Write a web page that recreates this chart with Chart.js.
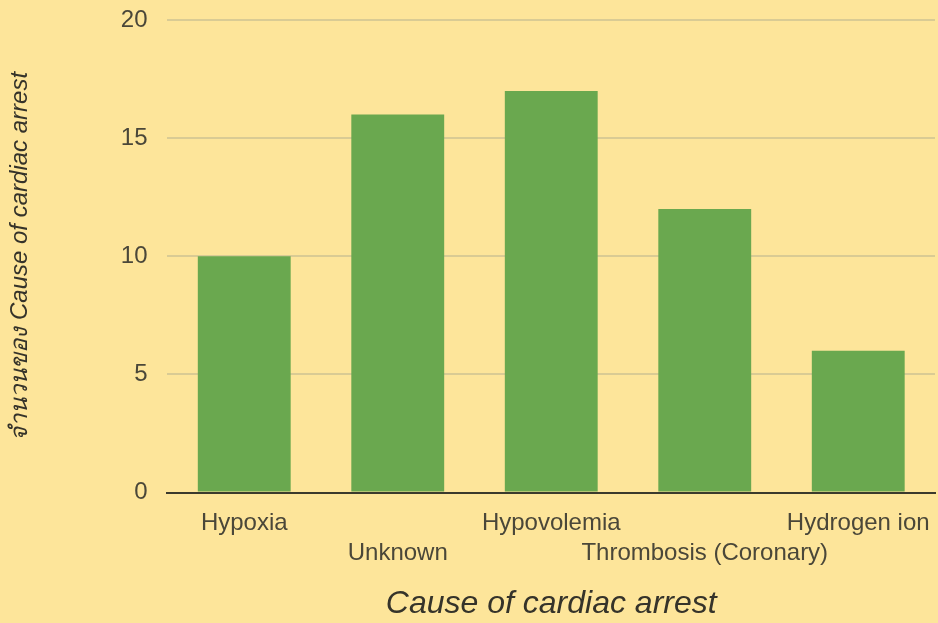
<!DOCTYPE html>
<html lang="th">
<head>
  <meta charset="UTF-8">
  <title>Cause of cardiac arrest</title>
  <script src="https://cdn.jsdelivr.net/npm/chart.js"></script>
  <style>
    html, body {
      margin: 0;
      padding: 0;
      background-color: #fde59a;
    }
    .chart-box {
      width: 938px;
      height: 623px;
    }
  </style>
</head>
<body>
  <div class="chart-box">
    <canvas id="causeChart" width="938" height="623"></canvas>
  </div>

  <script>
    const causes = ["Hypoxia", "Unknown", "Hypovolemia", "Thrombosis (Coronary)", "Hydrogen ion"];
    const counts = [10, 16, 17, 12, 6];
    const yTicks = [0, 5, 10, 15, 20];

    const fontFamily = 'Arial, "Liberation Sans", sans-serif';

    // tick labels are allowed to hang over the plot edges, like the original
    function noEdgePadding(scale) {
      scale.paddingLeft = 0;
      scale.paddingRight = 0;
      scale.paddingTop = 0;
      scale.paddingBottom = 0;
    }

    const ctx = document.getElementById('causeChart').getContext('2d');
    const causeChart = new Chart(ctx, {
      type: 'bar',
      data: {
        labels: causes,
        datasets: [
          {
            label: "จำนวนของ Cause of cardiac arrest",
            data: counts,
            backgroundColor: '#6aa84f',
            borderWidth: 0,
            barPercentage: 0.605,
            categoryPercentage: 1.0
          }
        ]
      },
      options: {
        responsive: false,
        animation: false,
        layout: {
          padding: { top: 20, right: 3, bottom: 0, left: 6 }
        },
        plugins: {
          legend: { display: false },
          tooltip: { enabled: false }
        },
        scales: {
          x: {
            afterFit: noEdgePadding,
            grid: { display: false, drawTicks: false },
            border: { display: true, color: '#3b3a2c', width: 2 },
            ticks: {
              autoSkip: false,
              maxRotation: 0,
              minRotation: 0,
              padding: 16,
              color: '#4a4739',
              font: { family: fontFamily, size: 24, lineHeight: 1.25 },
              callback: function(value, index) {
                const label = causes[index];
                return index % 2 === 1 ? ['', label] : label;
              }
            },
            title: {
              display: true,
              text: "Cause of cardiac arrest",
              color: '#35332a',
              font: { family: fontFamily, size: 32, style: 'italic' },
              padding: { top: 0, bottom: 0 }
            }
          },
          y: {
            min: 0,
            max: 20,
            afterFit: noEdgePadding,
            afterBuildTicks: function(scale) {
              scale.ticks = yTicks.map(v => ({ value: v }));
            },
            grid: {
              drawTicks: false,
              color: '#d9cb94',
              lineWidth: 2
            },
            border: { display: false },
            ticks: {
              padding: 20,
              color: '#4a4739',
              font: { family: fontFamily, size: 24 }
            },
            title: {
              display: true,
              text: "จำนวนของ Cause of cardiac arrest",
              color: '#35332a',
              font: { family: 'Arial, "Liberation Sans", "Noto Sans", sans-serif', size: 24, style: 'italic' },
              padding: { top: 0, bottom: 66 }
            }
          }
        }
      }
    });
  </script>
</body>
</html>
